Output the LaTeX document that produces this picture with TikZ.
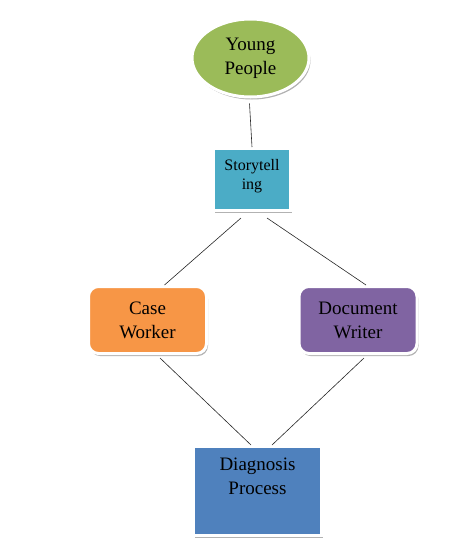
\documentclass[tikz,border=0pt]{standalone}
\usepackage{fontspec}
\setmainfont{Liberation Serif}
\newfontfamily\boxfont{Liberation Serif}
\usetikzlibrary{shapes.geometric,shadows,calc}
\definecolor{youngfill}{HTML}{9BBB59}
\definecolor{storyfill}{HTML}{4BACC6}
\definecolor{casefill}{HTML}{F79646}
\definecolor{writerfill}{HTML}{8064A2}
\definecolor{diagfill}{HTML}{4F81BD}
\tikzset{
  flowbox/.style={draw=white,line width=3pt,align=center,inner sep=2pt,
    text=black,font=\boxfont\fontsize{19}{24}\selectfont,
    drop shadow={shadow xshift=1.5pt,shadow yshift=-2.5pt,fill=black,opacity=0.3}},
  peoplebox/.style={flowbox,ellipse,fill=youngfill,minimum width=117pt,minimum height=78pt},
  storybox/.style={flowbox,fill=storyfill,minimum width=77pt,minimum height=62pt,
    font=\boxfont\fontsize{16}{18.5}\selectfont,text depth=10pt},
  rolebox/.style={flowbox,rounded corners=10pt,minimum width=118pt,minimum height=67pt},
  processbox/.style={flowbox,fill=diagfill,minimum width=128pt,minimum height=89pt,text depth=30pt},
  linkline/.style={draw=black!85,line width=0.6pt}
}
\begin{document}
\begin{tikzpicture}[x=1pt,y=-1pt]
  \useasboundingbox (0,0) rectangle (470,541);
  \node[peoplebox] (young) at (250.5,58) {Young\\People};
  \node[storybox] (story) at (252,179.5) {Storytell\\ing};
  \node[rolebox,fill=casefill] (caseworker) at (147.5,320) {Case\\Worker};
  \node[rolebox,fill=writerfill] (docwriter) at (358,320) {Document\\Writer};
  \node[processbox] (diagnosis) at (257.5,491) {Diagnosis\\Process};
  \draw[linkline] ($(young.south)+(-1,5)$) -- (story.north);
  \draw[linkline] ($(story.south)+(-11,6)$) -- ($(caseworker.north)+(17,0)$);
  \draw[linkline] ($(story.south)+(15,6)$) -- ($(docwriter.north)+(8,0)$);
  \draw[linkline] ($(caseworker.south)+(12.5,3)$) -- ($(diagnosis.north)+(-6.5,0)$);
  \draw[linkline] ($(docwriter.south)+(6,3)$) -- ($(diagnosis.north)+(14.5,0)$);
\end{tikzpicture}
\end{document}
